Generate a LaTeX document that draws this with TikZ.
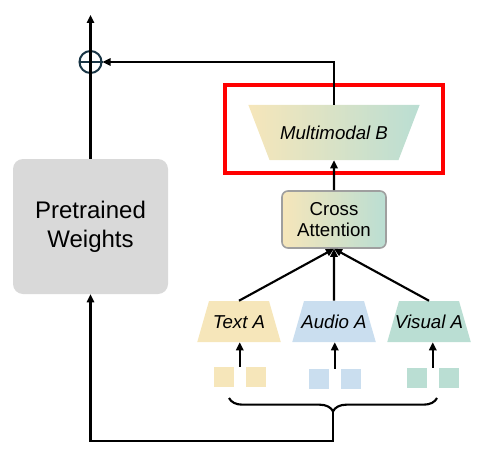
\documentclass[tikz,border=0pt]{standalone}
\usepackage{fontspec}
\setmainfont{Liberation Sans}
\usetikzlibrary{shapes.geometric, arrows.meta, positioning, calc, decorations.pathreplacing}
\definecolor{textyellow}{RGB}{246,230,186}
\definecolor{audioblue}{RGB}{202,222,239}
\definecolor{visualgreen}{RGB}{186,222,211}
\definecolor{weightgray}{RGB}{217,217,217}
\definecolor{plusnavy}{RGB}{24,52,68}
\newcommand{\modlabel}[2][45pt]{\makebox[#1]{#2}}
\tikzstyle{encoder} = [trapezium, trapezium angle=74, text height=20.4pt, text depth=10.35pt, inner sep=0pt, font=\fontsize{14}{16}\selectfont\itshape]
\tikzstyle{weightbox} = [rectangle, rounded corners=7.5pt, fill=weightgray, minimum width=116.25pt, minimum height=101.25pt, align=center, font=\fontsize{18}{22}\selectfont]
\tikzstyle{fusebox} = [rectangle, rounded corners=4.5pt, draw=gray!75, line width=1.2pt, left color=textyellow, middle color=audioblue, right color=visualgreen, minimum width=78pt, minimum height=42.75pt, align=center, font=\fontsize{14}{16}\selectfont]
\tikzstyle{focusbox} = [rectangle, draw=red, line width=3pt, minimum width=163.5pt, minimum height=66pt]
\tikzstyle{addop} = [circle, draw=plusnavy, line width=1.5pt, minimum size=16.5pt, inner sep=0pt]
\tikzstyle{token} = [rectangle, minimum size=15pt, inner sep=0pt]
\tikzstyle{wire} = [line width=1.6pt]
\tikzstyle{arrow} = [line width=1.6pt, -{Triangle[length=6pt, width=5.5pt]}]

\begin{document}
\begin{tikzpicture}[x=0.75pt, y=-0.75pt]
    \useasboundingbox (0,0) rectangle (498,452);

            % Nodes
            \node (weights) [weightbox] at (90.5,226.5) {Pretrained\\Weights};
            \node (oplus) [addop] at (90.5,62) {};
            \coordinate (output) at (90.5,15);

            \node (multiB) [encoder, shape border rotate=180, trapezium angle=69, text height=25.6pt, text depth=15.65pt, left color=textyellow, middle color=audioblue, right color=visualgreen] at (334,132.5) {\modlabel[96.75pt]{Multimodal B}};
            \node (focus) [focusbox] at (334,129) {};

            \node (cross) [fusebox] at (334,219.5) {Cross\\Attention};

            \node (textA) [encoder, fill=textyellow] at (239,321.5) {\modlabel{Text A}};
            \node (audioA) [encoder, fill=audioblue] at (334,321.5) {\modlabel{Audio A}};
            \node (visualA) [encoder, fill=visualgreen] at (429,321.5) {\modlabel{Visual A}};

            \node (tA1) [token, fill=textyellow] at (224,377) {};
            \node (tA2) [token, fill=textyellow, right=8.25pt of tA1] {};
            \node (aA1) [token, fill=audioblue] at (319,379) {};
            \node (aA2) [token, fill=audioblue, right=8.25pt of aA1] {};
            \node (vA1) [token, fill=visualgreen] at (417,378) {};
            \node (vA2) [token, fill=visualgreen, right=8.25pt of vA1] {};

            \coordinate (braceL) at (229,398);
            \coordinate (braceR) at (437,398);
            \coordinate (braceTip) at (333,411);

            % Arrows
            \draw [wire, plusnavy] (oplus.west) -- (oplus.east);
            \draw [arrow] (weights.north) -- (output);
            \draw [arrow] (multiB.north) |- (oplus.east);
            \draw [arrow] (cross.north) -- (multiB.south);
            \foreach \m in {textA, audioA, visualA}
                \draw [arrow] (\m.north) -- (cross.south);
            \foreach \m/\a/\b in {textA/tA1/tA2, audioA/aA1/aA2, visualA/vA1/vA2}{
                \coordinate (\m-in) at ($(\a.north)!0.5!(\b.north)$);
                \draw [arrow] (\m-in) -- (\m-in |- \m.south);
            }
            \draw [wire, decorate, decoration={brace, mirror, amplitude=10pt}] (braceL) -- (braceR);
            \draw [arrow] (braceTip) -- ++(0,30) -| (weights.south);

\end{tikzpicture}
\end{document}
